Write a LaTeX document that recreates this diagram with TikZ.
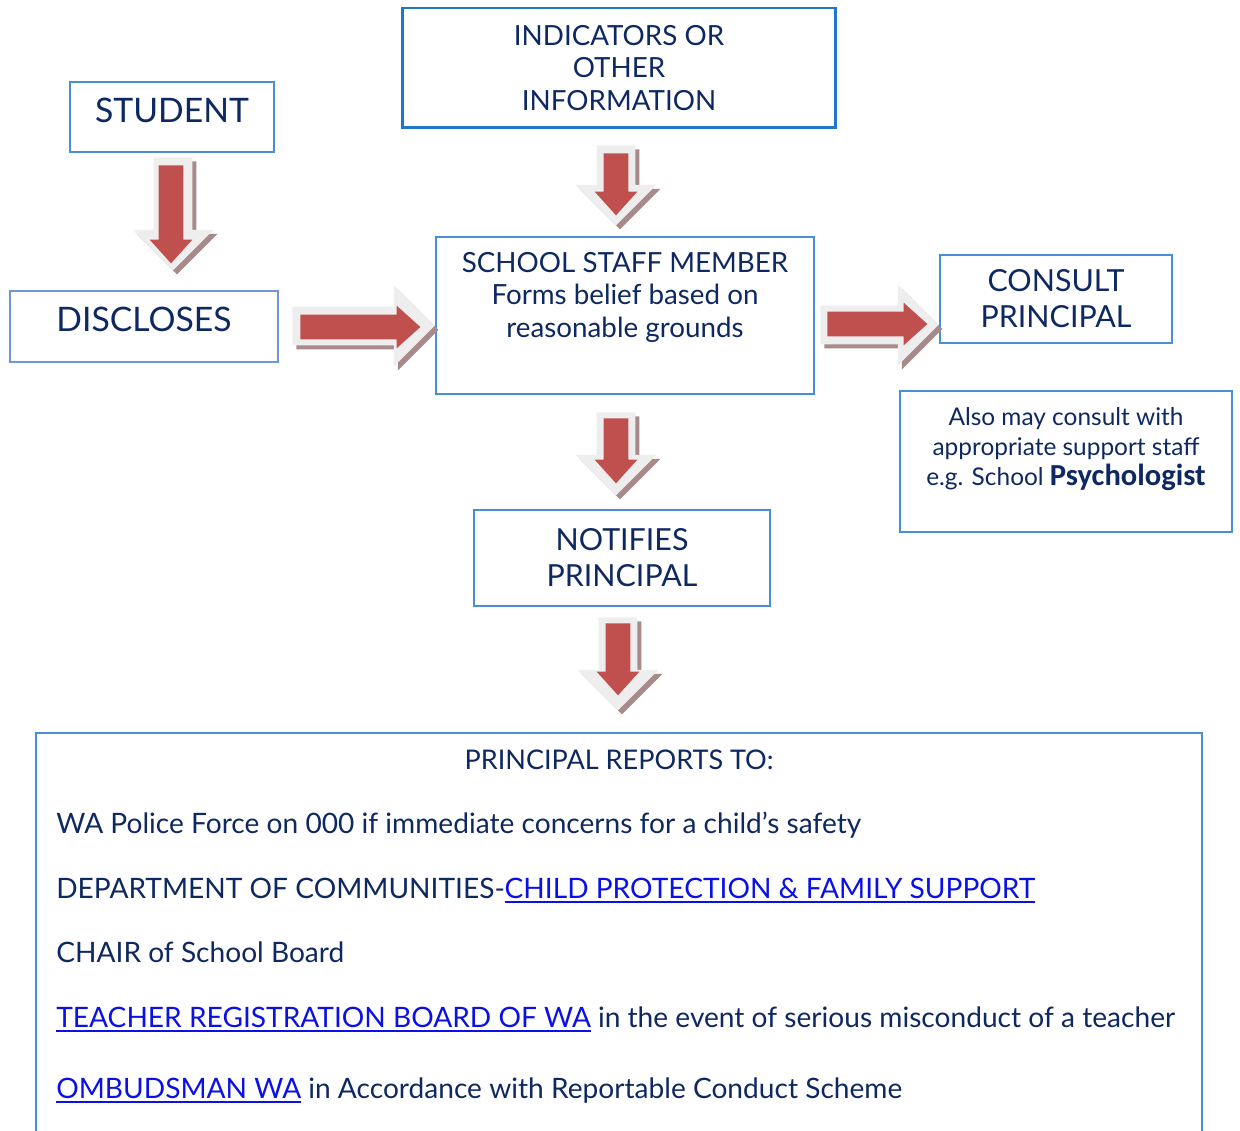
\documentclass[tikz,border=0pt]{standalone}
\usepackage{fontspec}
\setmainfont{Lato}
\newfontfamily\psychfont{Carlito}
\usetikzlibrary{shapes.arrows,shadows,positioning}

\definecolor{navy}{HTML}{0E2862}
\definecolor{boxblue}{HTML}{4A8FD6}
\definecolor{paleblue}{HTML}{7095D8}
\definecolor{deepblue}{HTML}{1F77C9}
\definecolor{arrowred}{HTML}{C0504D}
\definecolor{arrowrim}{HTML}{EEEEEE}
\definecolor{arrowshade}{HTML}{A88A8A}
\definecolor{linkblue}{HTML}{0A10E6}

\newcommand{\weblink}[1]{\textcolor{linkblue}{\setbox0\hbox{#1}\rlap{\rule[-2.6pt]{\wd0}{1pt}}\box0}}

\tikzset{
  box/.style={draw=boxblue, line width=0.85pt, text=navy, align=center, inner sep=0pt},
  bigfont/.style={font=\fontsize{19.2}{24}\selectfont, text depth=8pt},
  midfont/.style={font=\fontsize{17.3}{20.4}\selectfont},
  smallfont/.style={font=\fontsize{15.8}{18.5}\selectfont},
  listfont/.style={font=\fontsize{16}{20}\selectfont, text=navy},
  rim/.style={single arrow, draw=none, fill=arrowrim, inner sep=0.38cm, anchor=tail,
    single arrow head extend=0.42cm, single arrow tip angle=90,
    drop shadow={shadow xshift=0.08cm, shadow yshift=-0.08cm, fill=arrowshade, opacity=1}},
  core/.style={single arrow, draw=none, fill=arrowred, inner sep=0.24cm, anchor=tail,
    single arrow head extend=0.18cm, single arrow tip angle=84},
  down/.style={shape border rotate=270}
}

\begin{document}
\begin{tikzpicture}[x=0.02cm, y=-0.02cm]
    \useasboundingbox (0, 0) rectangle (1240, 1131);

    % boxes
    \node [box, bigfont, minimum width=4.08cm, minimum height=1.4cm] (student) at (172, 117) {STUDENT};
    \node [box, smallfont, draw=deepblue, line width=1.7pt, minimum width=8.68cm, minimum height=2.4cm] (indic) at (619, 68) {INDICATORS OR\\OTHER\\INFORMATION};
    \node [box, bigfont, draw=paleblue, minimum width=5.36cm, minimum height=1.42cm] (discl) at (144, 326.5) {DISCLOSES};
    \node [box, smallfont, minimum width=7.56cm, minimum height=3.14cm] (staff) at (625, 315.5) {SCHOOL STAFF MEMBER\\Forms belief based on\\reasonable grounds\\[5pt]\mbox{}};
    \node [box, midfont, minimum width=4.64cm, minimum height=1.76cm] (consult) at (1056, 299) {CONSULT\\PRINCIPAL};
    \node [box, font=\fontsize{13.9}{17}\selectfont, minimum width=6.64cm, minimum height=2.82cm] (also) at (1066, 461.5) {Also may consult with\\appropriate support staff\\e.g. School {\psychfont\bfseries\fontsize{17.4}{20}\selectfont Psychologist}\\[0pt]\mbox{}};
    \node [box, midfont, minimum width=5.92cm, minimum height=1.92cm] (notif) at (622, 558) {NOTIFIES\\PRINCIPAL};

    % open box at the bottom
    \coordinate (repBL) at (36, 1131);
    \coordinate (repTL) at (36, 733);
    \coordinate (repTR) at (1202, 733);
    \coordinate (repBR) at (1202, 1131);
    \draw [boxblue, line width=0.85pt] (repBL) -- (repTL) -- (repTR) -- (repBR);

    \node [listfont, font=\fontsize{15.4}{18}\selectfont, anchor=base] (title) at (619, 769) {PRINCIPAL REPORTS TO:};
    \node [listfont, anchor=base west, inner sep=0pt] (police) at (56, 833) {WA Police Force on 000 if immediate concerns for a child’s safety};
    \node [listfont, anchor=base west, inner sep=0pt] (dept) at (56, 898) {DEPARTMENT OF COMMUNITIES-\weblink{CHILD PROTECTION \& FAMILY SUPPORT}};
    \node [listfont, anchor=base west, inner sep=0pt] (chair) at (56, 962) {CHAIR of School Board};
    \node [listfont, anchor=base west, inner sep=0pt] (trb) at (56, 1027) {\weblink{TEACHER REGISTRATION BOARD OF WA} in the event of serious misconduct of a teacher};
    \node [listfont, anchor=base west, inner sep=0pt] (ombud) at (56, 1098) {\weblink{OMBUDSMAN WA} in Accordance with Reportable Conduct Scheme};

    % block arrows
    \node [rim, down, minimum height=2.26cm] (studRim) at (173, 157) {};
    \node [core, down, minimum height=1.96cm] (studCore) at (171, 165) {};
    \node [rim, down, minimum height=1.6cm] (indicRim) at (616, 145) {};
    \node [core, down, minimum height=1.24cm] (indicCore) at (616, 153) {};
    \node [rim, minimum height=2.84cm] (disclRim) at (292, 326) {};
    \node [core, minimum height=2.4cm] (disclCore) at (300, 327) {};
    \node [rim, minimum height=2.36cm] (staffRim) at (820, 325) {};
    \node [core, minimum height=2cm] (staffCore) at (827, 324) {};
    \node [rim, down, minimum height=1.66cm] (notifRim) at (616, 412) {};
    \node [core, down, minimum height=1.3cm] (notifCore) at (616, 418) {};
    \node [rim, down, minimum height=1.86cm] (repRim) at (618, 617) {};
    \node [core, down, minimum height=1.44cm] (repCore) at (618, 623) {};
\end{tikzpicture}
\end{document}
